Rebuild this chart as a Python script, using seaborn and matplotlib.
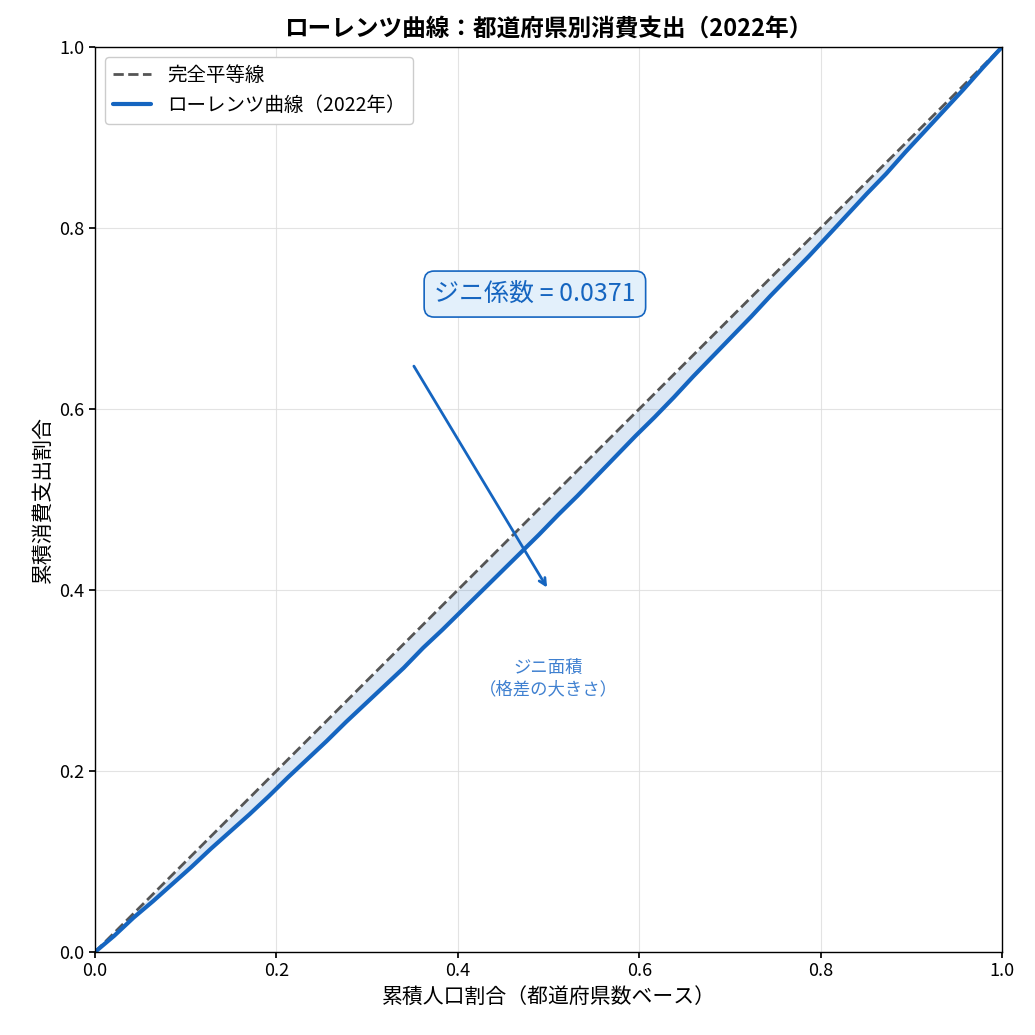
import numpy as np
import matplotlib
matplotlib.use("Agg")
import matplotlib.pyplot as plt
import seaborn as sns

cum_pop = [i / 47 for i in range(48)]
cum_spend = [0.0, 0.018, 0.038, 0.056, 0.075, 0.094, 0.114, 0.133, 0.152, 0.172,
             0.193, 0.213, 0.233, 0.254, 0.274, 0.294, 0.314, 0.336, 0.356, 0.377,
             0.398, 0.419, 0.440, 0.461, 0.483, 0.504, 0.526, 0.548, 0.570, 0.591,
             0.613, 0.636, 0.658, 0.680, 0.702, 0.725, 0.747, 0.769, 0.792, 0.815,
             0.838, 0.860, 0.884, 0.907, 0.930, 0.953, 0.977, 1.0]
equality = [0.0, 1.0]
gini = 0.0371

sns.set_theme(style="whitegrid")
plt.rcParams['font.family'] = ['Noto Sans CJK JP', 'DejaVu Sans']
plt.rcParams['text.color'] = 'black'
plt.rcParams['axes.labelcolor'] = 'black'

fig = plt.figure(figsize=(10.35, 10.35), dpi=100)
ax = fig.add_axes([95/1035, 83/1035, 907/1035, 905/1035])
ax.set_facecolor("white")
for s in ax.spines.values():
    s.set_color("black"); s.set_linewidth(1.0)
ax.grid(True, color="#dddddd", linewidth=0.8, alpha=0.8)

sns.lineplot(x=equality, y=equality, ax=ax, color="#555555", linestyle="--", linewidth=2, label="完全平等線")
ax.fill_between(cum_pop, cum_spend, cum_pop, color="#1565c0", alpha=0.15, linewidth=0)
sns.lineplot(x=cum_pop, y=cum_spend, ax=ax, color="#1565c0", linewidth=3, label="ローレンツ曲線（2022年）")

ax.set_xlim(0, 1); ax.set_ylim(0, 1)
ticks = [0.0, 0.2, 0.4, 0.6, 0.8, 1.0]
ax.set_xticks(ticks); ax.set_yticks(ticks)
ax.tick_params(labelsize=13, colors="black", length=4, left=True, bottom=True)
ax.set_xlabel("累積人口割合（都道府県数ベース）", fontsize=15)
ax.set_ylabel("累積消費支出割合", fontsize=15)
ax.set_title("ローレンツ曲線：都道府県別消費支出（2022年）", fontsize=17, fontweight="bold", pad=8, color="black")

ax.annotate("", xy=(0.5, 0.4), xytext=(0.35, 0.65),
            arrowprops=dict(arrowstyle="->", color="#1565c0", lw=2))
ax.text(0.485, 0.727, f"ジニ係数 = {gini:.4f}", fontsize=18, color="#1565c0", ha="center", va="center",
        bbox=dict(boxstyle="round,pad=0.4", fc="#e3f0fb", ec="#1565c0", lw=1.2))
ax.text(0.5, 0.302, "ジニ面積\n（格差の大きさ）", fontsize=12.5, color="#3f80d0", ha="center", va="center")

leg = ax.legend(loc="upper left", fontsize=14, frameon=True, framealpha=1.0)
leg.get_frame().set_edgecolor("#cccccc")

fig.savefig("out.png", dpi=100)
